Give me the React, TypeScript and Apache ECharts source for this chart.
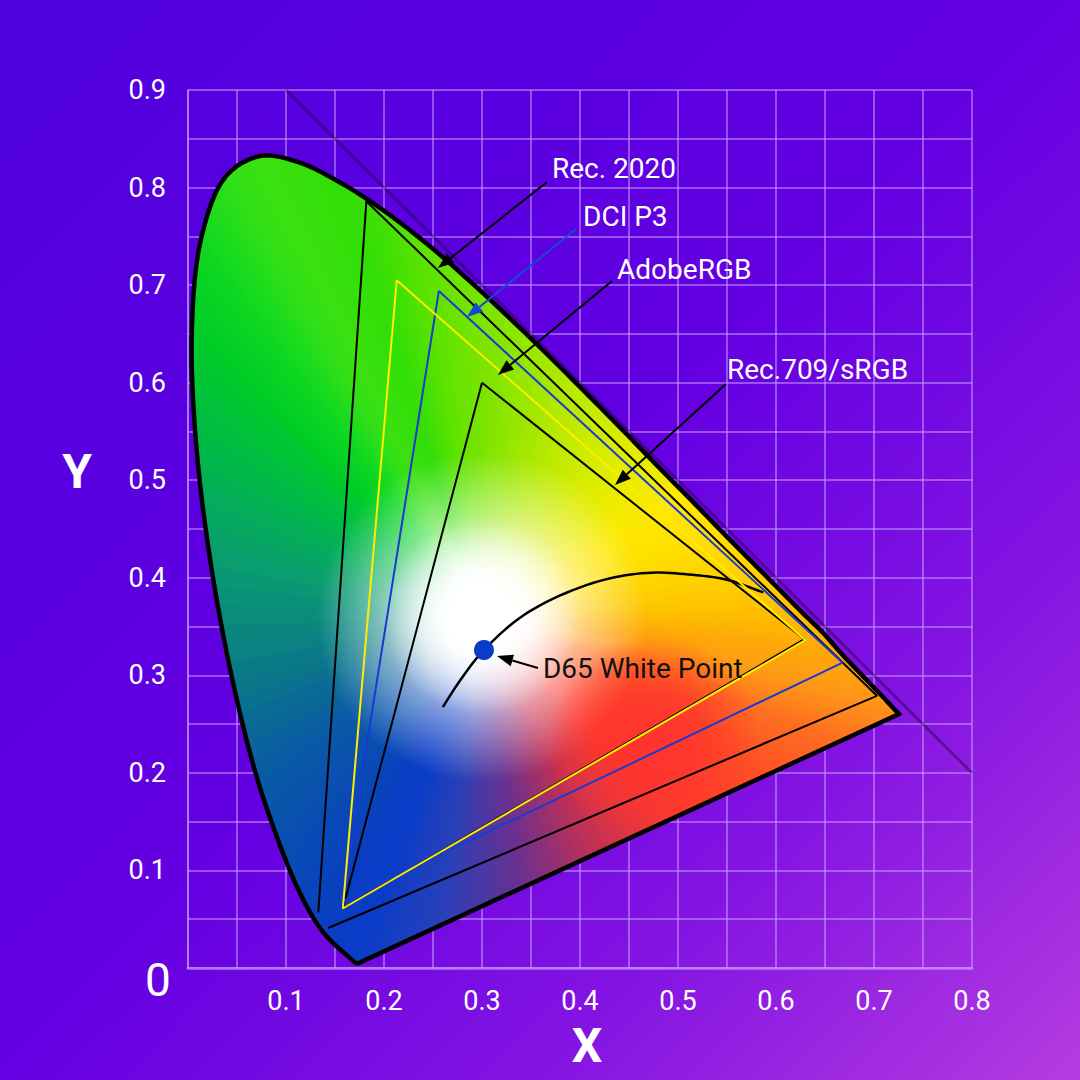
import React, { useEffect, useRef } from "react";
import * as echarts from "echarts";

// ---------- DATA ----------
// CIE 1931 spectral locus (wavelength nm, x, y) as drawn
const locusNm = [380, 400, 420, 430, 440, 450, 460, 465, 470, 475, 480, 485, 490, 495, 500, 505, 510, 515, 520, 525, 530, 535, 540, 545, 550, 555, 560, 565, 570, 575, 580, 585, 590, 595, 600, 605, 610, 620, 630, 640, 650, 660, 680, 700];
const locusX = [0.1741, 0.1733, 0.1714, 0.1689, 0.1644, 0.1566, 0.144, 0.1355, 0.1241, 0.1096, 0.0913, 0.0687, 0.0454, 0.0235, 0.0082, 0.0039, 0.0139, 0.0389, 0.0743, 0.1142, 0.1547, 0.1929, 0.2296, 0.2658, 0.3016, 0.3373, 0.3731, 0.4087, 0.4441, 0.4788, 0.5125, 0.5448, 0.5752, 0.6029, 0.627, 0.6482, 0.6658, 0.6915, 0.7079, 0.716, 0.7205, 0.7235, 0.725, 0.7255];
const locusY = [0.005, 0.0048, 0.0051, 0.0069, 0.0109, 0.0177, 0.0297, 0.0399, 0.0578, 0.0868, 0.1327, 0.2007, 0.295, 0.4127, 0.5384, 0.6548, 0.7502, 0.812, 0.8325, 0.8255, 0.8055, 0.7812, 0.7538, 0.7236, 0.6912, 0.6575, 0.6225, 0.5868, 0.5508, 0.5148, 0.4806, 0.4472, 0.4165, 0.3885, 0.3641, 0.3433, 0.3233, 0.2963, 0.2791, 0.2705, 0.2655, 0.2625, 0.261, 0.2603];

// gamut outlines
const rec2020X = [0.133, 0.182, 0.703, 0.143];
const rec2020Y = [0.057, 0.786, 0.279, 0.041];
const p3X = [0.256, 0.668, 0.157, 0.256];
const p3Y = [0.694, 0.313, 0.068, 0.694];
const adobeX = [0.213, 0.63, 0.158, 0.213];
const adobeY = [0.705, 0.336, 0.061, 0.705];
const srgbX = [0.3, 0.629, 0.158, 0.3];
const srgbY = [0.6, 0.337, 0.061, 0.6];

// Planckian locus as drawn
const planckX = [0.26, 0.278, 0.302, 0.346, 0.413, 0.468, 0.515, 0.55, 0.587];
const planckY = [0.2675, 0.2952, 0.326, 0.364, 0.3946, 0.405, 0.403, 0.398, 0.385];

// D65 white point
const d65X = [0.302];
const d65Y = [0.326];

// x + y = 1 reference line
const diagX = [0.1, 0.8];
const diagY = [0.9, 0.2];

// annotations
const labelTexts = ["Rec. 2020", "DCI P3", "AdobeRGB", "Rec.709/sRGB", "D65 White Point"];
const labelX = [0.3714, 0.4031, 0.4378, 0.55, 0.3622];
const labelY = [0.82, 0.7708, 0.7165, 0.614, 0.3075];
const arrowFromX = [0.3663, 0.3959, 0.4327, 0.549, 0.3571];
const arrowFromY = [0.8057, 0.7575, 0.7042, 0.5986, 0.3075];
const arrowToX = [0.2551, 0.2847, 0.3163, 0.4357, 0.3153];
const arrowToY = [0.7175, 0.6673, 0.6079, 0.4951, 0.3198];

// tick labels
const xTickLabels = ["0.1", "0.2", "0.3", "0.4", "0.5", "0.6", "0.7", "0.8"];
const yTickLabels = ["0.1", "0.2", "0.3", "0.4", "0.5", "0.6", "0.7", "0.8", "0.9"];

// ---------- STYLE ----------
const FONT = "Roboto, 'Noto Sans', sans-serif";
const GRID_COLOR = "rgba(200,160,255,0.52)";
const LABEL_COLORS = ["#ffffff", "#ffffff", "#ffffff", "#ffffff", "#111111"];
const ARROW_COLORS = ["#000000", "#1848d0", "#000000", "#000000", "#000000"];
// rim colour at each locus point (same order as locus arrays)
const edgeColors = [
  "#0a3cc8", "#0a3cc8", "#0a3cc8", "#0a3cc8", "#0a3cc8", "#0a3cc6", "#0a3cc4", "#0a3fc0", "#0842bc", "#0848b8",
  "#0a50b0", "#0a5ca4", "#0a7888", "#0a9a72", "#00b84a", "#00cc28", "#10d820", "#30e018", "#3ce010", "#36e00c",
  "#30de08", "#40e004", "#58e200", "#68e400", "#7ae400", "#8ee600", "#a6e800", "#c0ea00", "#d8ec00", "#eeec00",
  "#ffe800", "#ffe000", "#ffd400", "#ffca00", "#ffbe00", "#ffb204", "#ffa808", "#ffa010", "#ff9a14", "#ff9616",
  "#ff9418", "#ff9218", "#ff9018", "#ff8e18",
];
const purpleStops: [number, string][] = [
  [0, "#ff8e18"], [0.02, "#ff8c18"], [0.1, "#ff7020"], [0.25, "#ff5025"], [0.4, "#ff3a30"],
  [0.55, "#c83050"], [0.7, "#6a3090"], [0.85, "#2840b8"], [1, "#0a3cc8"],
];
const WHITE_CENTER = [0.3, 0.36];
const RED_CENTER = [0.4765, 0.2337];

function rgbOf(c: string): number[] {
  const v = parseInt(c.slice(1), 16);
  return [(v >> 16) & 255, (v >> 8) & 255, v & 255];
}
function mixRgb(a: number[], b: number[], t: number): number[] {
  return a.map((x, i) => x + (b[i] - x) * t);
}
function css(c: number[]): string {
  return `rgb(${Math.round(c[0])},${Math.round(c[1])},${Math.round(c[2])})`;
}
function purpleAt(t: number): number[] {
  for (let i = 0; i < purpleStops.length - 1; i++) {
    const [t0, c0] = purpleStops[i];
    const [t1, c1] = purpleStops[i + 1];
    if (t >= t0 && t <= t1) return mixRgb(rgbOf(c0), rgbOf(c1), (t - t0) / (t1 - t0));
  }
  return rgbOf(purpleStops[purpleStops.length - 1][1]);
}

// centripetal Catmull-Rom through the pixel points (rendering of a smooth curve)
function splinePixels(p: number[][], samples: number): { pts: number[][]; seg: number[]; frac: number[] } {
  const n = p.length;
  const ext = (a: number[], b: number[]) => [2 * a[0] - b[0], 2 * a[1] - b[1]];
  const out: number[][] = [p[0]];
  const seg: number[] = [0];
  const frac: number[] = [0];
  const dist = (a: number[], b: number[]) => Math.max(1e-3, Math.sqrt(Math.hypot(a[0] - b[0], a[1] - b[1])));
  for (let i = 0; i < n - 1; i++) {
    const p0 = i > 0 ? p[i - 1] : ext(p[0], p[1]);
    const p1 = p[i];
    const p2 = p[i + 1];
    const p3 = i + 2 < n ? p[i + 2] : ext(p[n - 1], p[n - 2]);
    const t0 = 0;
    const t1 = t0 + dist(p0, p1);
    const t2 = t1 + dist(p1, p2);
    const t3 = t2 + dist(p2, p3);
    for (let s = 1; s <= samples; s++) {
      const t = t1 + ((t2 - t1) * s) / samples;
      const lerp = (a: number[], b: number[], ta: number, tb: number) =>
        [((tb - t) / (tb - ta)) * a[0] + ((t - ta) / (tb - ta)) * b[0], ((tb - t) / (tb - ta)) * a[1] + ((t - ta) / (tb - ta)) * b[1]];
      const A1 = lerp(p0, p1, t0, t1);
      const A2 = lerp(p1, p2, t1, t2);
      const A3 = lerp(p2, p3, t2, t3);
      const B1 = lerp(A1, A2, t0, t2);
      const B2 = lerp(A2, A3, t1, t3);
      const C = lerp(B1, B2, t1, t2);
      out.push(C);
      seg.push(i);
      frac.push(s / samples);
    }
  }
  return { pts: out, seg, frac };
}

function locusShape(api: any) {
  const raw = locusX.map((x, i) => api.coord([x, locusY[i]]));
  const sp = splinePixels(raw, 6);
  const edgeRgb = edgeColors.map(rgbOf);
  const cols = sp.pts.map((_, k) => {
    const i = sp.seg[k];
    const f = sp.frac[k];
    if (k === 0) return edgeRgb[0];
    return mixRgb(edgeRgb[i], edgeRgb[Math.min(i + 1, edgeRgb.length - 1)], f);
  });
  return { curve: sp.pts, cols };
}

const tickFormatter = (labels: string[]) => (v: number) => {
  const s = (Math.round(v * 100) / 100).toFixed(2);
  const one = s.endsWith("0") ? s.slice(0, -1) : s;
  return labels.includes(one) ? one : "";
};

function renderFill(params: any, api: any) {
  const { curve, cols: curveCols } = locusShape(api);
  const edge: number[][] = curve.slice();
  const cols: number[][] = curveCols.slice();
  const segs = 96;
  const pEnd = curve[curve.length - 1];
  const pStart = curve[0];
  for (let k = 1; k < segs; k++) {
    const t = k / segs;
    edge.push([pEnd[0] + (pStart[0] - pEnd[0]) * t, pEnd[1] + (pStart[1] - pEnd[1]) * t]);
    cols.push(purpleAt(t));
  }
  const w = api.coord(WHITE_CENTER);
  const top = api.coord([0, 0.84])[1];
  const bottom = api.coord([0, 0])[1];
  const children: any[] = [];
  children.push({
    type: "polygon",
    shape: { points: curve },
    style: {
      fill: new echarts.graphic.LinearGradient(0, top, 0, bottom, [
        { offset: 0, color: "#30e010" },
        { offset: 0.35, color: "#00c040" },
        { offset: 0.62, color: "#0a7a88" },
        { offset: 0.9, color: "#0a3cc8" },
        { offset: 1, color: "#0a3cc8" },
      ], true),
    },
  });
  const CORE = 32;
  const SAT = 165;
  for (let i = 0; i < edge.length; i++) {
    const j = (i + 1) % edge.length;
    const A = edge[i];
    const B = edge[j];
    const m = [(A[0] + B[0]) / 2, (A[1] + B[1]) / 2];
    const d = Math.hypot(m[0] - w[0], m[1] - w[1]);
    if (d < 1) continue;
    const a = Math.min(0.4, CORE / d);
    const b = Math.min(0.95, Math.max(a + 0.05, SAT / d));
    const col = css(mixRgb(cols[i], cols[j], 0.5));
    const g = new echarts.graphic.LinearGradient(w[0], w[1], m[0], m[1], [
      { offset: 0, color: "#ffffff" },
      { offset: a, color: "#ffffff" },
      { offset: b, color: col },
      { offset: 1, color: col },
    ], true);
    children.push({
      type: "polygon",
      shape: { points: [w, A, B] },
      style: { fill: g, stroke: g, lineWidth: 1 },
    });
  }
  const rc = api.coord(RED_CENTER);
  const rr = api.size([0.108, 0])[0];
  children.push({
    type: "polygon",
    shape: { points: curve },
    style: {
      fill: new echarts.graphic.RadialGradient(rc[0], rc[1], rr, [
        { offset: 0, color: "rgba(255,50,48,0.95)" },
        { offset: 0.45, color: "rgba(255,52,44,0.75)" },
        { offset: 1, color: "rgba(255,60,40,0)" },
      ], true),
    },
  });
  const wr = api.size([0.1, 0])[0];
  children.push({
    type: "polygon",
    shape: { points: curve },
    style: {
      fill: new echarts.graphic.RadialGradient(w[0], w[1], wr, [
        { offset: 0, color: "rgba(255,255,255,1)" },
        { offset: 0.35, color: "rgba(255,255,255,0.9)" },
        { offset: 1, color: "rgba(255,255,255,0)" },
      ], true),
    },
  });
  return { type: "group", children };
}

function renderOutline(params: any, api: any) {
  if (params.dataIndex !== 0) return { type: "group", children: [] };
  const { curve } = locusShape(api);
  return {
    type: "polygon",
    shape: { points: curve },
    style: { fill: "none", stroke: "#000000", lineWidth: 4.5, lineJoin: "miter", miterLimit: 4 },
  };
}

function renderPlanck(params: any, api: any) {
  if (params.dataIndex !== 0) return { type: "group", children: [] };
  const raw = planckX.map((x, i) => api.coord([x, planckY[i]]));
  const sp = splinePixels(raw, 10);
  return {
    type: "polyline",
    shape: { points: sp.pts },
    style: { fill: "none", stroke: "#000000", lineWidth: 2.5 },
  };
}

function renderAnnotation(params: any, api: any) {
  const i = params.dataIndex;
  const t = api.coord([api.value(0), api.value(1)]);
  const s = api.coord([api.value(2), api.value(3)]);
  const e = api.coord([api.value(4), api.value(5)]);
  const dx = e[0] - s[0];
  const dy = e[1] - s[1];
  const len = Math.hypot(dx, dy);
  const ux = dx / len;
  const uy = dy / len;
  const L = 16;
  const H = 6;
  const bx = e[0] - ux * L;
  const by = e[1] - uy * L;
  const color = ARROW_COLORS[i];
  return {
    type: "group",
    children: [
      {
        type: "line",
        shape: { x1: s[0], y1: s[1], x2: bx, y2: by },
        style: { stroke: color, lineWidth: 2 },
      },
      {
        type: "polygon",
        shape: { points: [[e[0], e[1]], [bx - uy * H, by + ux * H], [bx + uy * H, by - ux * H]] },
        style: { fill: color },
      },
      {
        type: "text",
        x: t[0],
        y: t[1],
        style: {
          text: labelTexts[i],
          fill: LABEL_COLORS[i],
          fontSize: 28,
          fontFamily: FONT,
          align: "left",
          verticalAlign: "middle",
        },
      },
    ],
  };
}

const pairs = (xs: number[], ys: number[]) => xs.map((x, i) => [x, ys[i]]);

export default function App() {
  const ref = useRef<HTMLDivElement>(null);
  useEffect(() => {
    if (!ref.current) return;
    const chart = echarts.init(ref.current, null, { renderer: "svg" });
    const option: any = {
      animation: false,
      backgroundColor: "transparent",
      grid: { left: 188, top: 90, right: 108, bottom: 112, containLabel: false },
      xAxis: {
        type: "value",
        min: 0,
        max: 0.8,
        interval: 0.05,
        axisLine: { show: true, lineStyle: { color: GRID_COLOR, width: 3 } },
        axisTick: { show: false },
        splitLine: { show: true, lineStyle: { color: GRID_COLOR, width: 2 } },
        axisLabel: {
          formatter: tickFormatter(xTickLabels),
          color: "#ffffff",
          fontSize: 27,
          fontFamily: FONT,
          margin: 19,
          showMinLabel: true,
          showMaxLabel: true,
        },
      },
      yAxis: {
        type: "value",
        min: 0,
        max: 0.9,
        interval: 0.05,
        axisLine: { show: true, lineStyle: { color: GRID_COLOR, width: 2 } },
        axisTick: { show: false },
        splitLine: { show: true, lineStyle: { color: GRID_COLOR, width: 2 } },
        axisLabel: {
          formatter: tickFormatter(yTickLabels),
          color: "#ffffff",
          fontSize: 27,
          fontFamily: FONT,
          margin: 22,
        },
      },
      graphic: [
        { type: "text", x: 158, y: 980, style: { text: "0", fill: "#ffffff", fontSize: 46, fontFamily: FONT, align: "center", verticalAlign: "middle" } },
        { type: "text", x: 587, y: 1045, style: { text: "X", fill: "#ffffff", fontSize: 48, fontWeight: "bold", fontFamily: FONT, align: "center", verticalAlign: "middle" } },
        { type: "text", x: 77, y: 471, style: { text: "Y", fill: "#ffffff", fontSize: 48, fontWeight: "bold", fontFamily: FONT, align: "center", verticalAlign: "middle" } },
      ],
      series: [
        {
          type: "custom",
          name: "chromaticity fill",
          renderItem: renderFill,
          data: [[WHITE_CENTER[0], WHITE_CENTER[1]]],
          z: 1,
          silent: true,
        },
        {
          type: "line",
          name: "Rec. 2020",
          data: pairs(rec2020X, rec2020Y),
          showSymbol: false,
          lineStyle: { color: "#000000", width: 2 },
          z: 3,
          silent: true,
        },
        {
          type: "line",
          name: "Rec.709/sRGB",
          data: pairs(srgbX, srgbY),
          showSymbol: false,
          lineStyle: { color: "#000000", width: 2 },
          z: 3,
          silent: true,
        },
        {
          type: "line",
          name: "DCI P3",
          data: pairs(p3X, p3Y),
          showSymbol: false,
          lineStyle: { color: "#1a3ad0", width: 2 },
          z: 3,
          silent: true,
        },
        {
          type: "line",
          name: "AdobeRGB",
          data: pairs(adobeX, adobeY),
          showSymbol: false,
          lineStyle: { color: "#ffee00", width: 2 },
          z: 3,
          silent: true,
        },
        {
          type: "custom",
          name: "Planckian locus",
          renderItem: renderPlanck,
          data: pairs(planckX, planckY),
          z: 3,
          silent: true,
        },
        {
          type: "custom",
          name: "Spectral locus",
          renderItem: renderOutline,
          data: pairs(locusX, locusY),
          z: 4,
          silent: true,
        },
        {
          type: "line",
          name: "x + y = 1",
          data: pairs(diagX, diagY),
          showSymbol: false,
          lineStyle: { color: "rgba(30,0,60,0.4)", width: 3 },
          z: 5,
          silent: true,
        },
        {
          type: "scatter",
          name: "D65",
          data: pairs(d65X, d65Y),
          symbolSize: 20,
          itemStyle: { color: "#0a3cc8", opacity: 1 },
          z: 6,
          silent: true,
        },
        {
          type: "custom",
          name: "annotations",
          renderItem: renderAnnotation,
          encode: { x: [0, 2, 4], y: [1, 3, 5] },
          data: labelTexts.map((_, i) => [labelX[i], labelY[i], arrowFromX[i], arrowFromY[i], arrowToX[i], arrowToY[i]]),
          z: 7,
          silent: true,
        },
      ],
    };
    chart.setOption(option);
    return () => chart.dispose();
  }, []);
  return (
    <div
      style={{
        position: "fixed",
        left: 0,
        top: 0,
        width: 1080,
        height: 1080,
        background: "linear-gradient(135deg, #4e00de 0%, #6400e2 50%, #8414e2 75%, #b43ce0 100%)",
      }}
    >
      <div ref={ref} style={{ width: 1080, height: 1080 }} />
    </div>
  );
}
